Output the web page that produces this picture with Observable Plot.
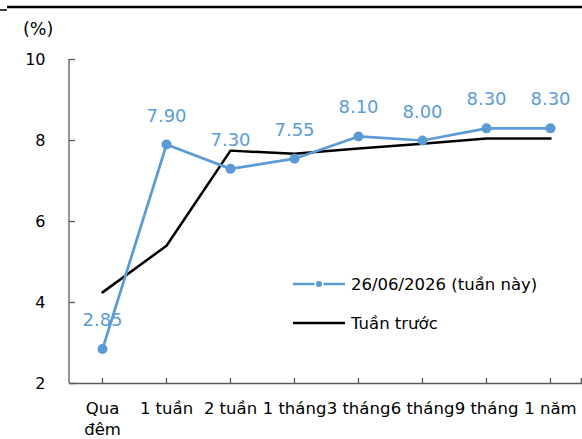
<!DOCTYPE html>
<html>
<head>
<meta charset="utf-8">
<script src="https://cdn.jsdelivr.net/npm/d3@7"></script>
<script src="https://cdn.jsdelivr.net/npm/@observablehq/plot@0.6"></script>
<style>
  html, body { margin: 0; padding: 0; background: #fff; }
</style>
</head>
<body>
<div id="chart"></div>
<script>
const categories = ["Qua đêm", "1 tuần", "2 tuần", "1 tháng", "3 tháng", "6 tháng", "9 tháng", "1 năm"];
const thisWeek = [2.85, 7.90, 7.30, 7.55, 8.10, 8.00, 8.30, 8.30];
const lastWeek = [4.25, 5.40, 7.75, 7.67, 7.80, 7.92, 8.05, 8.05];
const yTicks = [2, 4, 6, 8, 10];
const seriesNames = ["26/06/2026 (tuần này)", "Tuần trước"];

const blue = "#5b9bd5";
const font = "'DejaVu Sans', sans-serif";
const fs = 16.5;

const dataThis = categories.map((c, i) => ({cat: c, v: thisWeek[i]}));
const dataLast = categories.map((c, i) => ({cat: c, v: lastWeek[i]}));

const W = 582, H = 439, ML = 69, MR = 0, MT = 59, MB = 56;
const frameW = W - ML - MR, frameH = H - MT - MB;

function decorations(index, scales, values, dims) {
  const g = d3.create("svg:g").attr("text-anchor", "start");
  // top border
  g.append("line").attr("x1", 7).attr("x2", W).attr("y1", 7).attr("y2", 7)
    .attr("stroke", "#000").attr("stroke-width", 2.5);
  g.append("line").attr("x1", 0).attr("x2", 7).attr("y1", 10).attr("y2", 10)
    .attr("stroke", "#000").attr("stroke-width", 1.5);
  // (%) label
  g.append("text").attr("x", 23).attr("y", 35).attr("font-size", 17.5)
    .attr("fill", "#000").text("(%)");
  // left axis line
  const y0 = scales.y(2), y1 = scales.y(10);
  g.append("line").attr("x1", dims.marginLeft).attr("x2", dims.marginLeft)
    .attr("y1", y1).attr("y2", y0).attr("stroke", "#595959").attr("stroke-width", 1.3);
  // right edge tick on x axis
  g.append("line").attr("x1", W - 0.7).attr("x2", W - 0.7)
    .attr("y1", y0 - 5).attr("y2", y0).attr("stroke", "#595959").attr("stroke-width", 1.3);
  // legend
  const lx0 = 293, lx1 = 345, ly1 = 284, ly2 = 323;
  g.append("line").attr("x1", lx0).attr("x2", lx1).attr("y1", ly1).attr("y2", ly1)
    .attr("stroke", blue).attr("stroke-width", 2.5);
  g.append("circle").attr("cx", (lx0 + lx1) / 2).attr("cy", ly1).attr("r", 3.8)
    .attr("fill", blue).attr("stroke", "#fff").attr("stroke-width", 1.5);
  g.append("text").attr("x", 351).attr("y", ly1 + 6).attr("font-size", fs)
    .attr("fill", "#000").text(seriesNames[0]);
  g.append("line").attr("x1", lx0).attr("x2", lx1).attr("y1", ly2).attr("y2", ly2)
    .attr("stroke", "#000").attr("stroke-width", 2.5);
  g.append("text").attr("x", 351).attr("y", ly2 + 6).attr("font-size", fs)
    .attr("fill", "#000").text(seriesNames[1]);
  return g.node();
}

const chart = Plot.plot({
  width: W,
  height: H,
  marginLeft: ML,
  marginRight: MR,
  marginTop: MT,
  marginBottom: MB,
  style: {fontFamily: font, fontSize: fs + "px", color: "#000", background: "#fff"},
  x: {type: "point", domain: categories, padding: 0.5, axis: null},
  y: {domain: [2, 10], axis: null},
  marks: [
    Plot.ruleY([2], {stroke: "#595959", strokeWidth: 1.3}),
    Plot.tickY(yTicks, {y: d => d, insetRight: frameW - 6, stroke: "#595959", strokeWidth: 1.3}),
    Plot.tickX(categories, {x: d => d, insetTop: frameH - 5, stroke: "#595959", strokeWidth: 1.3}),
    Plot.axisY({ticks: yTicks, tickSize: 0, tickPadding: 24, fontSize: 16, fill: "#000", label: null}),
    Plot.axisX({tickSize: 0, tickPadding: 16, fontSize: fs, lineHeight: 1.25, fill: "#000", label: null,
      tickFormat: d => d === "Qua đêm" ? "Qua\nđêm" : d}),
    decorations,
    Plot.line(dataLast, {x: "cat", y: "v", stroke: "#000", strokeWidth: 2.5, strokeLinejoin: "round"}),
    Plot.line(dataThis, {x: "cat", y: "v", stroke: blue, strokeWidth: 2.75, strokeLinejoin: "round"}),
    Plot.dot(dataThis, {x: "cat", y: "v", r: 5, fill: blue, stroke: "none"}),
    Plot.text(dataThis, {x: "cat", y: "v", text: d => d.v.toFixed(2), dy: -23, lineAnchor: "bottom",
      fill: blue, fontSize: 18})
  ]
});
document.getElementById("chart").appendChild(chart);
</script>
</body>
</html>
